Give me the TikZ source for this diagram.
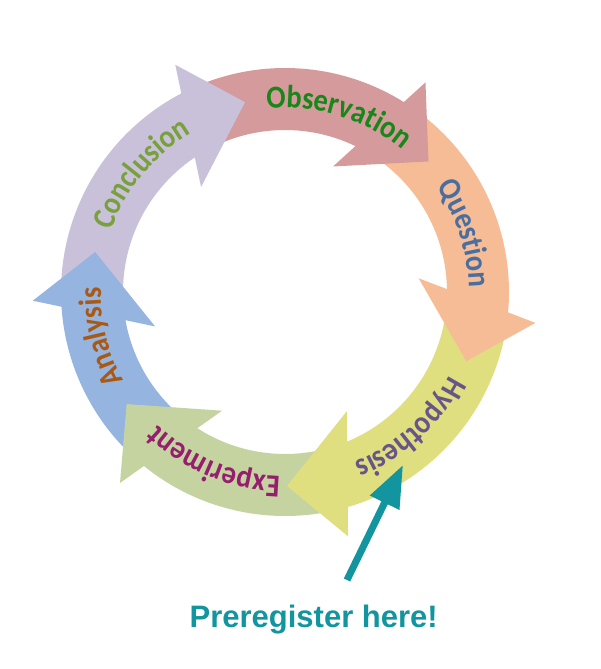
\documentclass[tikz,border=0pt]{standalone}
\usepackage{fontspec}
\setmainfont{Liberation Sans}
\newfontfamily\lblfont{Carlito}[FakeStretch=0.89]
\usetikzlibrary{decorations.text,arrows.meta}
\definecolor{obsF}{HTML}{D59A9B}
\definecolor{queF}{HTML}{F6BC96}
\definecolor{hypF}{HTML}{E0DF80}
\definecolor{expF}{HTML}{C4D3A0}
\definecolor{anaF}{HTML}{95B4E0}
\definecolor{conF}{HTML}{C9C1DA}
\definecolor{obsT}{HTML}{17871A}
\definecolor{queT}{HTML}{4A6E9E}
\definecolor{hypT}{HTML}{67558A}
\definecolor{expT}{HTML}{961E6E}
\definecolor{anaT}{HTML}{A85A14}
\definecolor{conT}{HTML}{78A03C}
\definecolor{tealC}{HTML}{12959F}
% #1 previous tip angle, #2 own tip angle, #3 colour
\newcommand\ringband[3]{%
  \fill[#3] (#1+14.2:224) arc[start angle=#1+14.2, end angle=#2+13, radius=224pt]
    -- (#2+18:162) arc[start angle=#2+18, end angle=#1+20.4, radius=162pt] -- cycle;}
% #1 tip angle, #2 colour
\newcommand\ringhead[2]{%
  \fill[#2,rotate=#1] (245,60.5) -- (194,0) -- (120,60.5) -- cycle;}
% #1 middle angle, #2 colour, #3 text
\newcommand\ringlabel[3]{%
  \path[decorate,decoration={text along path,text align=center,text color=#2,
    text={|\lblfont\bfseries\fontsize{32}{32}\selectfont|#3}}]
    (#1+50:184) arc[start angle=#1+50, end angle=#1-50, radius=184pt];}
\begin{document}
\begin{tikzpicture}[x=1pt,y=1pt]
\useasboundingbox (-285,-377) rectangle (316,292);
% bands
\ringband{168.1}{101.9}{conF}
\ringband{101.9}{42.3}{obsF}
\ringband{42.3}{-20.9}{queF}
\ringband{-20.9}{-89.4}{hypF}
\ringband{-89.4}{-144.7}{expF}
\ringband{215.3}{168.1}{anaF}
% heads
\ringhead{101.9}{conF}
\ringhead{42.3}{obsF}
\ringhead{-20.9}{queF}
\ringhead{-89.4}{hypF}
\ringhead{-144.7}{expF}
\ringhead{168.1}{anaF}
% labels
\ringlabel{73}{obsT}{Observation}
\ringlabel{18}{queT}{Question}
\ringlabel{-47.4}{hypT}{Hypothesis}
\ringlabel{-112.7}{expT}{Experiment}
\ringlabel{193.7}{anaT}{Analysis}
\ringlabel{140.5}{conT}{Conclusion}
% call-out
\node[font=\bfseries\fontsize{31}{31}\selectfont, text=tealC, anchor=base, inner sep=0pt] (pre) at (28.7,-335) {Preregister here!};
\coordinate (ptail) at (62,-288);
\coordinate (ptip) at (118,-173);
\draw[line width=7pt, tealC, -{Triangle[length=42pt,width=31pt]}] (ptail) -- (ptip);
\end{tikzpicture}
\end{document}
